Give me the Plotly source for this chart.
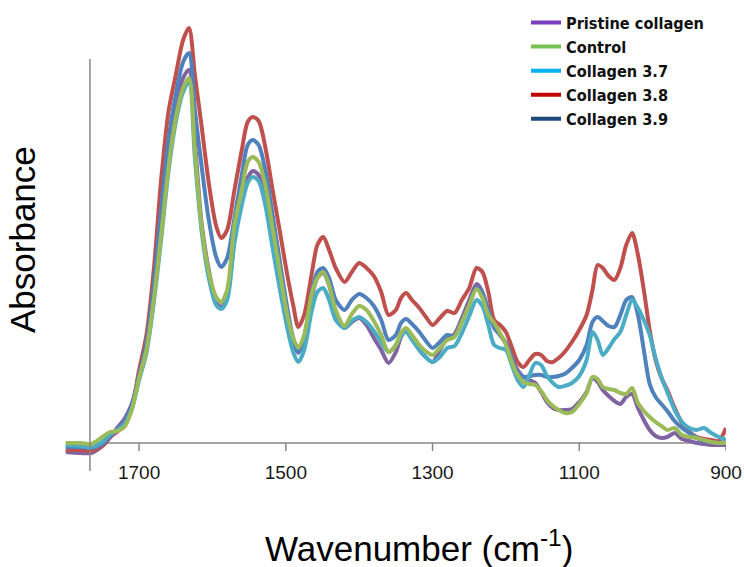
import plotly.graph_objects as go

# Wavenumber (cm-1), descending
wavenumber = [
    1800, 1780, 1765, 1750, 1740, 1730, 1720, 1710, 1700,
    1690, 1680, 1670, 1660, 1650, 1640, 1632, 1624, 1615, 1605,
    1595, 1588, 1580, 1570, 1560, 1552, 1545, 1537, 1528, 1518,
    1508, 1498, 1490, 1483, 1475, 1465, 1457, 1449, 1441, 1432,
    1420, 1410, 1400, 1390, 1380, 1370, 1360, 1350, 1343, 1336,
    1328, 1318, 1308, 1300, 1290, 1280, 1270, 1260, 1250, 1240,
    1232, 1224, 1216, 1208, 1200, 1192, 1184, 1176, 1168, 1160,
    1152, 1144, 1136, 1128, 1120, 1110, 1100, 1090, 1082, 1075,
    1068, 1060, 1052, 1044, 1036, 1028, 1020, 1012, 1004, 996,
    988, 980, 970, 960, 950, 940, 930, 920, 910, 900,
]

pristine_collagen = [
    -0.018, -0.020, -0.020, -0.006, 0.010, 0.030, 0.048, 0.078, 0.134,
    0.192, 0.302, 0.442, 0.576, 0.670, 0.730, 0.746, 0.606, 0.442, 0.346,
    0.282, 0.272, 0.292, 0.410, 0.486, 0.530, 0.544, 0.536, 0.486, 0.406,
    0.326, 0.250, 0.202, 0.180, 0.210, 0.290, 0.330, 0.340, 0.316, 0.262,
    0.230, 0.242, 0.250, 0.236, 0.210, 0.186, 0.160, 0.182, 0.212, 0.226,
    0.210, 0.186, 0.170, 0.162, 0.186, 0.210, 0.218, 0.250, 0.286, 0.318,
    0.302, 0.250, 0.236, 0.216, 0.200, 0.170, 0.146, 0.132, 0.126, 0.120,
    0.102, 0.082, 0.070, 0.066, 0.066, 0.068, 0.082, 0.102, 0.130, 0.122,
    0.106, 0.094, 0.084, 0.078, 0.092, 0.098, 0.070, 0.046, 0.026, 0.014,
    0.010, 0.012, 0.020, 0.008, 0.004, 0.000, -0.002, -0.004, -0.004, -0.004,
]

control = [
    0.000, 0.000, -0.002, 0.012, 0.022, 0.024, 0.032, 0.066, 0.130,
    0.186, 0.286, 0.416, 0.550, 0.650, 0.710, 0.730, 0.586, 0.436, 0.342,
    0.292, 0.282, 0.306, 0.436, 0.506, 0.562, 0.572, 0.562, 0.516, 0.430,
    0.342, 0.256, 0.210, 0.190, 0.216, 0.296, 0.330, 0.342, 0.316, 0.266,
    0.234, 0.258, 0.274, 0.266, 0.244, 0.216, 0.182, 0.196, 0.220, 0.230,
    0.216, 0.196, 0.182, 0.176, 0.190, 0.206, 0.212, 0.242, 0.276, 0.308,
    0.290, 0.256, 0.240, 0.220, 0.196, 0.162, 0.136, 0.122, 0.118, 0.116,
    0.104, 0.086, 0.074, 0.066, 0.060, 0.062, 0.078, 0.100, 0.132, 0.128,
    0.112, 0.108, 0.106, 0.100, 0.098, 0.110, 0.080, 0.064, 0.052, 0.042,
    0.034, 0.026, 0.030, 0.016, 0.012, 0.010, 0.006, 0.002, 0.000, 0.000,
]

collagen_3_7 = [
    -0.004, -0.006, -0.008, 0.002, 0.016, 0.026, 0.038, 0.068, 0.126,
    0.180, 0.280, 0.406, 0.542, 0.642, 0.702, 0.722, 0.570, 0.426, 0.330,
    0.276, 0.268, 0.286, 0.400, 0.476, 0.520, 0.532, 0.524, 0.476, 0.390,
    0.306, 0.230, 0.182, 0.162, 0.186, 0.262, 0.302, 0.310, 0.286, 0.246,
    0.230, 0.244, 0.252, 0.242, 0.224, 0.202, 0.182, 0.196, 0.214, 0.222,
    0.206, 0.186, 0.170, 0.162, 0.172, 0.190, 0.194, 0.220, 0.254, 0.286,
    0.274, 0.236, 0.196, 0.190, 0.186, 0.156, 0.126, 0.112, 0.136, 0.160,
    0.156, 0.134, 0.120, 0.112, 0.114, 0.120, 0.134, 0.166, 0.222, 0.206,
    0.176, 0.190, 0.208, 0.222, 0.256, 0.286, 0.270, 0.246, 0.216, 0.170,
    0.132, 0.102, 0.066, 0.042, 0.030, 0.026, 0.030, 0.020, 0.012, 0.006,
]

collagen_3_8 = [
    -0.014, -0.014, -0.016, -0.006, 0.012, 0.022, 0.038, 0.070, 0.146,
    0.216, 0.346, 0.526, 0.662, 0.736, 0.806, 0.830, 0.736, 0.636, 0.520,
    0.434, 0.410, 0.426, 0.506, 0.586, 0.642, 0.652, 0.644, 0.592, 0.506,
    0.422, 0.336, 0.276, 0.232, 0.256, 0.336, 0.396, 0.412, 0.386, 0.350,
    0.322, 0.342, 0.360, 0.350, 0.334, 0.302, 0.256, 0.266, 0.290, 0.300,
    0.286, 0.270, 0.250, 0.236, 0.250, 0.264, 0.260, 0.286, 0.310, 0.350,
    0.342, 0.302, 0.246, 0.236, 0.222, 0.192, 0.162, 0.152, 0.166, 0.178,
    0.176, 0.164, 0.162, 0.170, 0.182, 0.202, 0.226, 0.256, 0.306, 0.356,
    0.350, 0.334, 0.326, 0.350, 0.396, 0.420, 0.376, 0.306, 0.226, 0.166,
    0.130, 0.106, 0.070, 0.040, 0.022, 0.012, 0.008, 0.006, 0.004, 0.030,
]

collagen_3_9 = [
    -0.008, -0.008, -0.010, -0.002, 0.014, 0.026, 0.042, 0.074, 0.136,
    0.200, 0.316, 0.466, 0.606, 0.696, 0.762, 0.780, 0.666, 0.556, 0.446,
    0.372, 0.352, 0.370, 0.450, 0.536, 0.596, 0.606, 0.596, 0.546, 0.456,
    0.362, 0.270, 0.210, 0.182, 0.210, 0.296, 0.342, 0.350, 0.330, 0.286,
    0.266, 0.286, 0.298, 0.290, 0.274, 0.246, 0.206, 0.216, 0.240, 0.248,
    0.238, 0.222, 0.202, 0.190, 0.202, 0.216, 0.214, 0.242, 0.276, 0.310,
    0.300, 0.266, 0.230, 0.216, 0.200, 0.170, 0.142, 0.132, 0.134, 0.136,
    0.136, 0.132, 0.132, 0.134, 0.138, 0.150, 0.166, 0.196, 0.242, 0.252,
    0.244, 0.234, 0.232, 0.256, 0.286, 0.292, 0.256, 0.186, 0.118, 0.092,
    0.078, 0.064, 0.044, 0.030, 0.020, 0.010, 0.004, 0.002, 0.000, 0.000,
]

tick_values = [1700, 1500, 1300, 1100, 900]
tick_labels = ["1700", "1500", "1300", "1100", "900"]
axis_cross = 1767

series_names = ["Pristine collagen", "Control", "Collagen 3.7", "Collagen 3.8", "Collagen 3.9"]
series_values = [pristine_collagen, control, collagen_3_7, collagen_3_8, collagen_3_9]
line_colors = ["#8064A2", "#9BBB59", "#4BACC6", "#C0504D", "#4F81BD"]
legend_colors = ["#7B3FC0", "#74C24F", "#00B0F0", "#C00000", "#1F497D"]
draw_order = [0, 3, 4, 2, 1]

fig = go.Figure()
for i in draw_order:
    fig.add_trace(go.Scatter(
        x=wavenumber, y=series_values[i], mode="lines",
        line=dict(color=line_colors[i], width=4, shape="spline", smoothing=0.8),
        showlegend=False, hoverinfo="skip",
    ))
for i in range(5):
    fig.add_trace(go.Scatter(
        x=[None], y=[None], mode="lines", name=series_names[i],
        line=dict(color=legend_colors[i], width=4),
    ))

ax_color = "#868686"
shapes = [
    dict(type="line", xref="x", yref="paper", x0=axis_cross, x1=axis_cross,
         y0=-12 / 439, y1=400 / 439, line=dict(color=ax_color, width=1.5), layer="above"),
    dict(type="line", xref="x", yref="y", x0=axis_cross, x1=900, y0=0, y1=0,
         line=dict(color=ax_color, width=1.5), layer="below"),
]
for v in tick_values:
    shapes.append(dict(type="line", xref="x", yref="y", x0=v, x1=v, y0=0, y1=-0.016,
                       line=dict(color=ax_color, width=1.5), layer="below"))

font_family = "Liberation Sans, Arial, sans-serif"
fig.update_layout(
    width=744, height=567, autosize=False,
    margin=dict(l=65, r=18, t=20, b=108, autoexpand=False),
    paper_bgcolor="white", plot_bgcolor="white",
    font=dict(family=font_family, color="#000000"),
    xaxis=dict(range=[1801, 900], showgrid=False, zeroline=False, showline=False,
               tickvals=tick_values, ticktext=tick_labels, ticks="",
               tickfont=dict(size=19, color="#1a1a1a")),
    yaxis=dict(range=[-0.032, 0.846], visible=False),
    shapes=shapes,
    legend=dict(x=(526 - 65) / 661, y=(459 - 5.5) / 439, xanchor="left", yanchor="top",
                font=dict(size=16.2, weight="bold", color="#111111",
                          family="DejaVu Sans Condensed, Liberation Sans, sans-serif"),
                bgcolor="rgba(0,0,0,0)", tracegroupgap=0),
    annotations=[
        dict(text="Wavenumber (cm<sup>-1</sup>)", xref="paper", yref="paper",
             x=(419 - 65) / 661, y=(459 - 546) / 439, xanchor="center", yanchor="middle",
             showarrow=False, font=dict(size=35, color="#000000")),
        dict(text="Absorbance", xref="paper", yref="paper", textangle=-90,
             x=(23 - 65) / 661, y=(459 - 240) / 439, xanchor="center", yanchor="middle",
             showarrow=False, font=dict(size=35, color="#000000")),
    ],
)

fig.write_html(
    "out.html",
    config={"responsive": False},
    default_width="744px",
    default_height="567px",
    post_script="document.body.style.margin='0';document.body.style.overflow='hidden';"
                "document.documentElement.style.overflow='hidden';",
)
